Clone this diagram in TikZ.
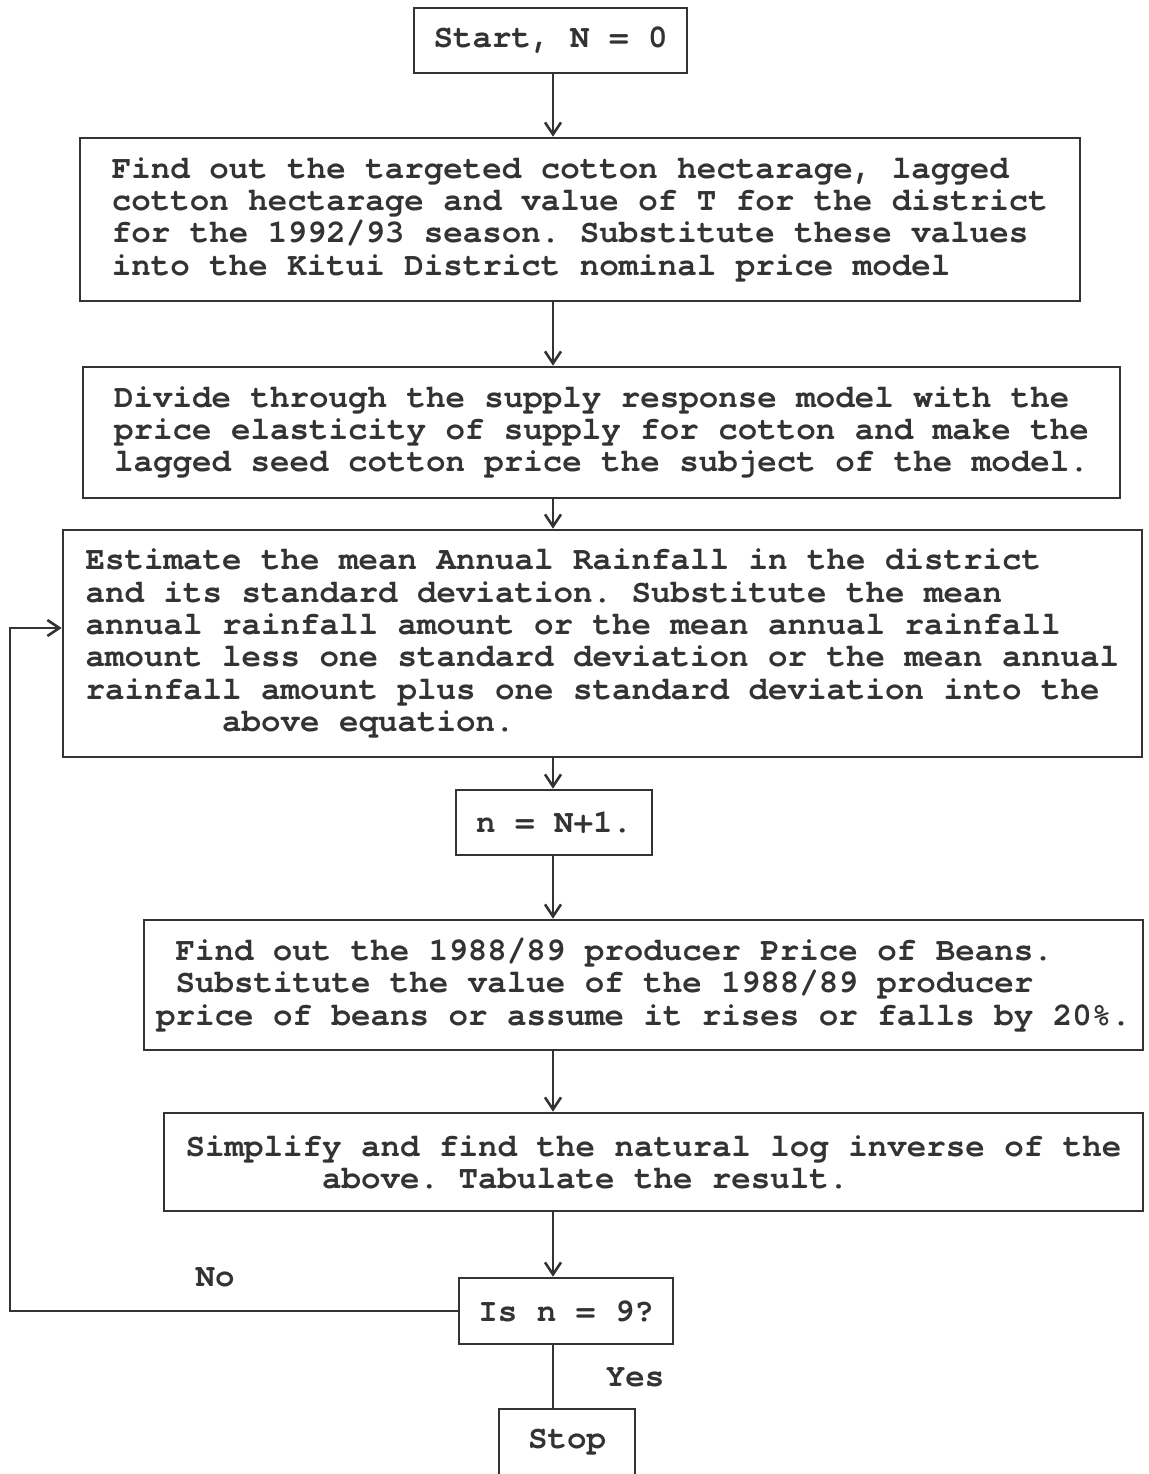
\documentclass[tikz,border=0pt]{standalone}
\usepackage{fontspec}
\setmonofont[Ligatures=CommonOff]{TeX Gyre Cursor}
\usetikzlibrary{arrows.meta}
\definecolor{ink}{HTML}{333333}
\tikzset{
	flowbox/.style={draw=ink,text=ink,line width=1.3pt,inner sep=0pt,align=left,
		font=\ttfamily\bfseries\fontsize{16.25pt}{16.15pt}\selectfont},
	link/.style={draw=ink,line width=1.3pt,-{Straight Barb[length=6pt,width=8pt]}},
	plain/.style={draw=ink,line width=1.3pt},
	tag/.style={text=ink,inner sep=0pt,font=\ttfamily\bfseries\fontsize{16.25pt}{16.15pt}\selectfont}
}
\begin{document}
\begin{tikzpicture}[x=0.5pt,y=-0.5pt]
	\useasboundingbox (0,0) rectangle (1149,1474);
	\coordinate (spine) at (553,0);
	\coordinate (back) at (10,0);
	% boxes
	\node[flowbox,minimum width=136.5pt,minimum height=32.5pt] (start) at (550.5,40.5) {Start, N = 0};
	\node[flowbox,minimum width=500pt,minimum height=81.5pt] (targets) at (580,219.5)
		{Find out the targeted cotton hectarage, lagged\\
		cotton hectarage and value of T for the district\\
		for the 1992/93 season. Substitute these values\\
		into the Kitui District nominal price model};
	\node[flowbox,minimum width=518.5pt,minimum height=65.5pt] (divide) at (601.5,432.5)
		{Divide through the supply response model with the\\
		price elasticity of supply for cotton and make the\\
		lagged seed cotton price the subject of the model.};
	\node[flowbox,minimum width=539.5pt,minimum height=113.5pt] (rain) at (602.5,643.5)
		{Estimate the mean Annual Rainfall in the district\\
		and its standard deviation. Substitute the mean\\
		annual rainfall amount or the mean annual rainfall\\
		amount less one standard deviation or the mean annual\\
		rainfall amount plus one standard deviation into the\\
		\hphantom{1234567}above equation.};
	\node[flowbox,minimum width=98pt,minimum height=32.5pt] (count) at (554,822.5) {n = N+1.};
	\node[flowbox,minimum width=499.5pt,minimum height=65pt] (beans) at (643.5,985)
		{\hphantom{1}Find out the 1988/89 producer Price of Beans.\\
		\hphantom{1}Substitute the value of the 1988/89 producer\\
		price of beans or assume it rises or falls by 20\%.};
	\node[flowbox,minimum width=489.5pt,minimum height=49pt] (simplify) at (653.5,1162)
		{Simplify and find the natural log inverse of the\\
		\hphantom{1234567}above. Tabulate the result.};
	\node[flowbox,minimum width=107pt,minimum height=33pt] (check) at (566,1311) {Is n = 9?};
	\node[flowbox,minimum width=68pt,minimum height=33pt] (stop) at (567,1442) {Stop};
	% connectors
	\draw[link] (start.south -| spine) -- (targets.north -| spine);
	\draw[link] (targets.south -| spine) -- (divide.north -| spine);
	\draw[link] (divide.south -| spine) -- (rain.north -| spine);
	\draw[link] (rain.south -| spine) -- (count.north -| spine);
	\draw[link] (count.south -| spine) -- (beans.north -| spine);
	\draw[link] (beans.south -| spine) -- (simplify.north -| spine);
	\draw[link] (simplify.south -| spine) -- (check.north -| spine);
	\draw[plain] (check.south -| spine) -- (stop.north -| spine);
	\draw[link] (check.west) -- (check.west -| back) |- ([yshift=7.75pt]rain.west);
	% labels
	\node[tag] (no) at (215,1277) {No};
	\node[tag] (yes) at (635,1377) {Yes};
\end{tikzpicture}
\end{document}
